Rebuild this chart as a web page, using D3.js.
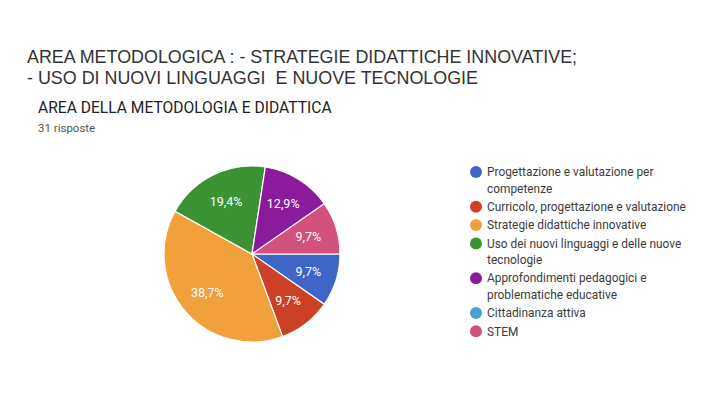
<!DOCTYPE html>
<html><head><meta charset="utf-8">
<script src="https://cdn.jsdelivr.net/npm/d3@7"></script>
<style>body{margin:0;background:#fff}svg{display:block}text{white-space:pre}</style>
</head><body>
<svg id="c" width="720" height="405"></svg>
<script>
const categories = ["Progettazione e valutazione per competenze","Curricolo, progettazione e valutazione","Strategie didattiche innovative","Uso dei nuovi linguaggi e delle nuove tecnologie","Approfondimenti pedagogici e problematiche educative","Cittadinanza attiva","STEM"];
const legendLines = [["Progettazione e valutazione per","competenze"],["Curricolo, progettazione e valutazione"],["Strategie didattiche innovative"],["Uso dei nuovi linguaggi e delle nuove","tecnologie"],["Approfondimenti pedagogici e","problematiche educative"],["Cittadinanza attiva"],["STEM"]];
const counts = [3,3,12,6,4,0,3];
const colors = ["#3f66c7","#cc4125","#f2a03c","#3c9333","#8c1b9c","#4aa2d3","#d2527d"];
const titleLines = ["AREA METODOLOGICA : - STRATEGIE DIDATTICHE INNOVATIVE;","- USO DI NUOVI LINGUAGGI  E NUOVE TECNOLOGIE"];
const subtitle = "AREA DELLA METODOLOGIA E DIDATTICA";
const responses = "31 risposte";

const svg = d3.select("#c");
svg.selectAll("text.title").data(titleLines).join("text").attr("class","title")
  .attr("x",27).attr("y",(d,i)=>63+i*21)
  .attr("font-family","Liberation Sans, Arial, sans-serif").attr("font-size",17.9).attr("fill","#333")
  .text(d=>d);
svg.append("text").attr("x",38).attr("y",113).attr("font-family","Roboto, sans-serif")
  .attr("font-size",15.6).attr("fill","#222").text(subtitle);
svg.append("text").attr("x",38).attr("y",132).attr("font-family","Roboto, sans-serif")
  .attr("font-size",11.5).attr("fill","#555").text(responses);

const total = d3.sum(counts);
const cx=252, cy=254, r=88;
const pie = d3.pie().sort(null).startAngle(Math.PI/2).endAngle(Math.PI/2+2*Math.PI).value(d=>d);
const arcs = pie(counts);
const arc = d3.arc().innerRadius(0).outerRadius(r);
const g = svg.append("g").attr("transform",`translate(${cx},${cy})`);
g.selectAll("path").data(arcs.filter(a=>a.value>0)).join("path")
  .attr("d",arc).attr("fill",d=>colors[d.index]).attr("stroke","#fff").attr("stroke-width",1.2);
const fmt = v => (Math.round(v/total*1000)/10).toFixed(1).replace(".",",")+"%";
g.selectAll("text").data(arcs.filter(a=>a.value>0)).join("text")
  .attr("transform",d=>{const m=(d.startAngle+d.endAngle)/2;const k=0.67*r;return `translate(${Math.sin(m)*k},${-Math.cos(m)*k})`;})
  .attr("text-anchor","middle").attr("dy","0.36em")
  .attr("font-family","Roboto, sans-serif").attr("font-size",12.5).attr("fill","#fff")
  .text(d=>fmt(d.value));

const lg = svg.append("g");
let y = 172;
legendLines.forEach((lines,i)=>{
  lg.append("circle").attr("cx",476).attr("cy",y).attr("r",6).attr("fill",colors[i]);
  lines.forEach((t,j)=>{
    lg.append("text").attr("x",487).attr("y",y+j*16.5).attr("dy","0.36em")
      .attr("font-family","Roboto, sans-serif").attr("font-size",11.9).attr("fill","#3c3c3c").text(t);
  });
  y += lines.length*16.5 + 1.8;
});
</script>
</body></html>
